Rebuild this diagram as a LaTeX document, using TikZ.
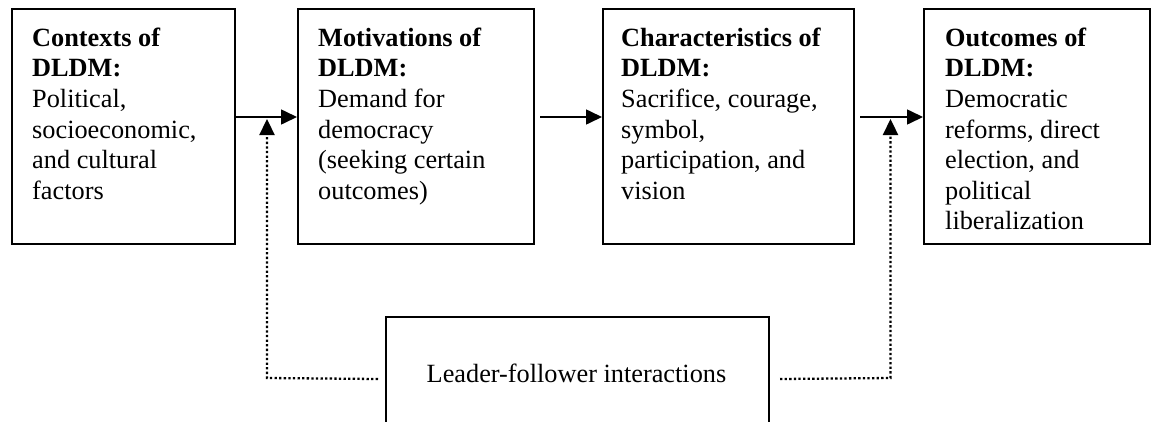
\documentclass[tikz,border=0pt]{standalone}
\usepackage{fontspec}
\setmainfont{Liberation Serif}
\usetikzlibrary{arrows.meta,calc}
\begin{document}
\begin{tikzpicture}[x=1pt,y=-1pt,
  box/.style={draw,line width=2pt,inner sep=0pt,anchor=north west},
  txt/.style={anchor=north west,inner sep=0pt,align=left,font=\fontsize{26.3}{30.6}\selectfont},
  arr/.style={line width=1.6pt,-{Triangle[length=16pt,width=15pt]}},
  dotline/.style={line width=2.3pt,dash pattern=on 2.3pt off 2.3pt,-{Triangle[length=16pt,width=15pt]}}]
\clip (0,0) rectangle (1151,421);
% boxes
\node[box,minimum width=223pt,minimum height=235pt] (b1) at (11,8) {};
\node[box,minimum width=236pt,minimum height=235pt] (b2) at (297,8) {};
\node[box,minimum width=251pt,minimum height=235pt] (b3) at (602,8) {};
\node[box,minimum width=226pt,minimum height=235pt] (b4) at (923,8) {};
\node[box,minimum width=383pt,minimum height=124pt] (lf) at (385,316) {};
% texts
\node[txt] (t1) at (32,27.5) {\textbf{Contexts of}\\\textbf{DLDM:}\\Political,\\socioeconomic,\\and cultural\\factors};
\node[txt] (t2) at (318,27.5) {\textbf{Motivations of}\\\textbf{DLDM:}\\Demand for\\democracy\\(seeking certain\\outcomes)};
\node[txt] (t3) at (621,27.5) {\textbf{Characteristics of}\\\textbf{DLDM:}\\Sacrifice, courage,\\symbol,\\participation, and\\vision};
\node[txt] (t4) at (945,27.5) {\textbf{Outcomes of}\\\textbf{DLDM:}\\Democratic\\reforms, direct\\election, and\\political\\liberalization};
\node[anchor=base,inner sep=0pt,font=\fontsize{26.3}{30.6}\selectfont] (tl) at (576.5,382) {Leader-follower interactions};
% horizontal arrows
\coordinate (ya) at (0,117);
\draw[arr] (b1.east |- ya) -- (b2.west |- ya);
\draw[arr] ([xshift=5pt]b2.east |- ya) -- (b3.west |- ya);
\draw[arr] ([xshift=5pt]b3.east |- ya) -- (b4.west |- ya);
% dotted feedback arrows
\coordinate (c1) at (267,378);
\coordinate (h1) at (267,119);
\coordinate (c2) at (890.5,378);
\coordinate (h2) at (890.5,119);
\draw[dotline] ([xshift=-7pt]lf.west) -- (c1) -- (h1);
\draw[dotline] ([xshift=10pt]lf.east) -- (c2) -- (h2);
\end{tikzpicture}
\end{document}
